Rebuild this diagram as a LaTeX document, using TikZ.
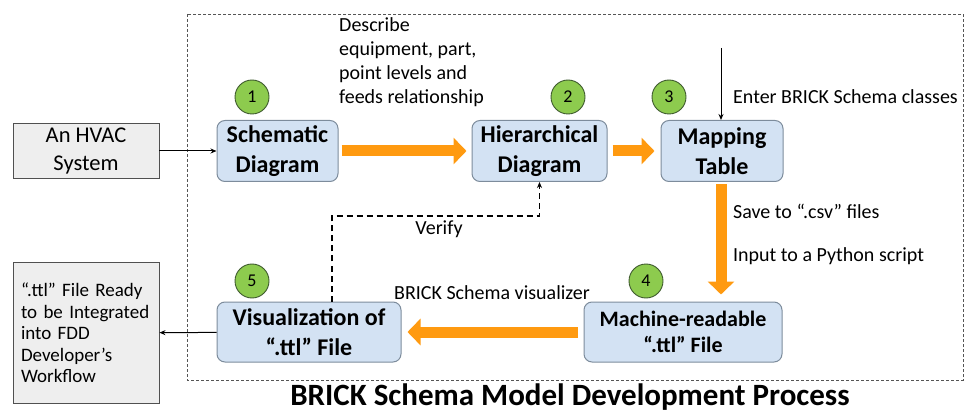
\documentclass[tikz,border=0pt]{standalone}
\usepackage{fontspec}
\setmainfont{Carlito}
\usetikzlibrary{arrows.meta,positioning}
\definecolor{boxfill}{HTML}{D3E2F3}
\definecolor{boxborder}{HTML}{7D8C9C}
\definecolor{numfill}{HTML}{8DCB4E}
\definecolor{numborder}{HTML}{3E5A2E}
\definecolor{orangec}{HTML}{FF9A10}
\definecolor{extfill}{HTML}{EEEEEE}
\definecolor{extborder}{HTML}{505050}
\definecolor{framec}{HTML}{555555}
\tikzset{
  proc/.style={draw=boxborder, fill=boxfill, rounded corners=8pt, line width=1pt, align=center, inner sep=0pt, font=\bfseries\fontsize{24}{29.5}\selectfont},
  num/.style={circle, draw=numborder, fill=numfill, minimum size=34pt, inner sep=0pt, line width=0.9pt, font=\fontsize{18}{20}\selectfont},
  ext/.style={draw=extborder, fill=extfill, line width=0.9pt, inner sep=0pt},
  lbl/.style={font=\fontsize{20}{24}\selectfont, inner sep=0pt},
  bigarrow/.style={draw=orangec, line width=11pt, -{Triangle[length=13pt,width=26pt]}},
  thinarrow/.style={draw=black, line width=1pt, -{Stealth[length=6pt,width=5pt]}},
  verifyarrow/.style={draw=black, line width=1.3pt, dash pattern=on 6pt off 4pt, -{Stealth[length=6pt,width=5pt]}},
  framebox/.style={draw=framec, line width=0.8pt, dash pattern=on 3pt off 2pt}
}
\begin{document}
\begin{tikzpicture}[x=1pt,y=-1pt]
\useasboundingbox (0,0) rectangle (964,414);
% frame
\draw[framebox] (187,14) rectangle (963,380);
% boxes
\node[ext, minimum width=146pt, minimum height=55pt, align=center, font=\fontsize{22.5}{28}\selectfont] (hvac) at (86,151) {An HVAC\\System};
\node[proc, minimum width=121pt, minimum height=61pt] (sch) at (277.5,151) {Schematic\\Diagram};
\node[proc, minimum width=135pt, minimum height=61pt] (hier) at (539.5,151) {Hierarchical\\Diagram};
\node[proc, minimum width=122pt, minimum height=61pt] (map) at (722,151) {Mapping\\Table};
\node[proc, minimum width=198pt, minimum height=60pt, font=\bfseries\fontsize{22}{26}\selectfont] (mach) at (683,332) {Machine-readable\\``.ttl'' File};
\node[proc, minimum width=184pt, minimum height=60pt] (vis) at (309,332) {Visualization of\\``.ttl'' File};
\node[ext, minimum width=146pt, minimum height=141pt, text width=130pt, align=left, font=\fontsize{19}{21.5}\selectfont] (out) at (86,333) {``.ttl'' File Ready\\to be Integrated\\into FDD\\Developer's\\Workflow};
% numbers
\node[num] (n1) at (252,97) {1};
\node[num] (n2) at (568,97) {2};
\node[num] (n3) at (669,97) {3};
\node[num] (n4) at (646,281) {4};
\node[num] (n5) at (252,281) {5};
% labels
\node[lbl, anchor=north west, align=left] (desc) at (339,17) {Describe\\equipment, part,\\point levels and\\feeds relationship};
\node[lbl, anchor=west] (enterl) at (733,97) {Enter BRICK Schema classes};
\node[lbl, anchor=west] (savel) at (733,211) {Save to ``.csv'' files};
\node[lbl, anchor=west] (inputl) at (733,256) {Input to a Python script};
\node[lbl, anchor=west] (visl) at (394,293) {BRICK Schema visualizer};
\node[lbl] (verl) at (439,229) {Verify};
\node[font=\bfseries\fontsize{31}{36}\selectfont, inner sep=0pt] (title) at (570,397) {BRICK Schema Model Development Process};
% connectors
\draw[thinarrow] (hvac) -- (sch);
\draw[thinarrow] (vis) -- (out);
\coordinate (enter) at (721,48);
\draw[thinarrow] (enter) -- (enter |- map.north);
\draw[bigarrow, shorten <=3pt, shorten >=5pt] (sch) -- (hier);
\draw[bigarrow, shorten <=5pt, shorten >=6pt] (hier) -- (map);
\draw[bigarrow, shorten <=2pt, shorten >=7pt] (map.south -| enter) -- (mach.north -| enter);
\draw[bigarrow, shorten <=6pt, shorten >=6pt] (mach) -- (vis);
\coordinate (vtop) at (332,216);
\draw[verifyarrow] (vis.north -| vtop) -- (vtop) -| (hier.south);
\end{tikzpicture}
\end{document}
